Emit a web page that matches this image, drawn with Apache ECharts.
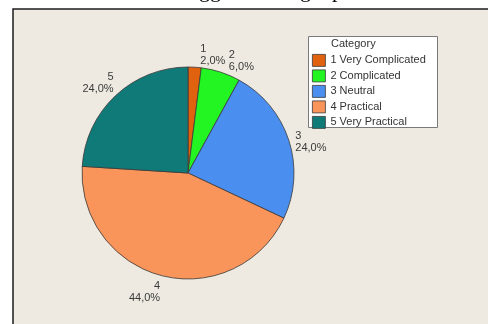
<!DOCTYPE html>
<html>
<head>
<meta charset="utf-8">
<script src="https://cdn.jsdelivr.net/npm/echarts@6/dist/echarts.min.js"></script>
<style>
  html, body { margin: 0; padding: 0; background: #ffffff; }
  #chart { width: 488px; height: 324px; }
</style>
</head>
<body>
<div id="chart"></div>
<script>
// Survey answers: share of respondents per category (percent)
const categories = ['1 Very Complicated', '2 Complicated', '3 Neutral', '4 Practical', '5 Very Practical'];
const shortNames = ['1', '2', '3', '4', '5'];
const percents = [2.0, 6.0, 24.0, 44.0, 24.0];
const sliceColors = ['#E0620F', '#22F522', '#4A8FEF', '#F9955A', '#0F7A77'];

// small nudges for the slice labels [dx, dy]
const labelNudge = [[0, -2], [0, -2], [-8, 5], [6, 7], [10, -5]];

const panelBg = '#EEEAE1';
const font = 'Liberation Sans, Arial, sans-serif';

const pieData = categories.map((name, i) => ({
  name: name,
  value: percents[i],
  shortName: shortNames[i],
  itemStyle: { color: sliceColors[i] }
}));

const chart = echarts.init(document.getElementById('chart'), null, { renderer: 'canvas' });

chart.setOption({
  animation: false,
  backgroundColor: '#ffffff',
  graphic: [
    // caption line above the panel (only its descenders fall inside the frame)
    { type: 'text', left: 199, top: -20, z: 1,
      style: { text: 'gg', font: '22px "Liberation Serif", serif', fill: '#000' } },
    { type: 'text', left: 300, top: -20, z: 1,
      style: { text: 'g', font: '22px "Liberation Serif", serif', fill: '#000' } },
    { type: 'text', left: 332, top: -20, z: 1,
      style: { text: 'p', font: '22px "Liberation Serif", serif', fill: '#000' } },
    // chart panel
    { type: 'rect', z: 0,
      shape: { x: 13, y: 9, width: 500, height: 330 },
      style: { fill: panelBg, stroke: '#1e1e1e', lineWidth: 1.5 } },
    // legend frame and heading
    { type: 'rect', z: 2,
      shape: { x: 308.5, y: 36.5, width: 129, height: 91 },
      style: { fill: '#ffffff', stroke: '#7a7a7a', lineWidth: 1 } },
    { type: 'text', z: 3, left: 331, top: 38,
      style: { text: 'Category', font: '11px ' + font, fill: '#333333' } }
  ],
  legend: {
    orient: 'vertical',
    left: 307,
    top: 49,
    padding: [5, 5, 5, 5],
    itemWidth: 13,
    itemHeight: 12,
    itemGap: 2.7,
    icon: 'rect',
    z: 10,
    textStyle: { fontFamily: font, fontSize: 11, color: '#333333' },
    itemStyle: { borderColor: '#3a3a3a', borderWidth: 0.8 },
    data: categories
  },
  series: [{
    type: 'pie',
    center: [188, 173],
    radius: 106,
    startAngle: 90,
    clockwise: true,
    avoidLabelOverlap: false,
    z: 5,
    itemStyle: { borderColor: '#3a3a3a', borderWidth: 0.8 },
    label: {
      show: true,
      position: 'outside',
      fontFamily: font,
      fontSize: 11,
      lineHeight: 12,
      color: '#3a3a3a',
      formatter: p => p.data.shortName + '\n' + p.value.toFixed(1).replace('.', ',') + '%'
    },
    labelLine: { show: false, length: 10, length2: 0 },
    labelLayout: p => ({ dx: labelNudge[p.dataIndex][0], dy: labelNudge[p.dataIndex][1] }),
    emphasis: { disabled: true },
    data: pieData
  }]
});
</script>
</body>
</html>
